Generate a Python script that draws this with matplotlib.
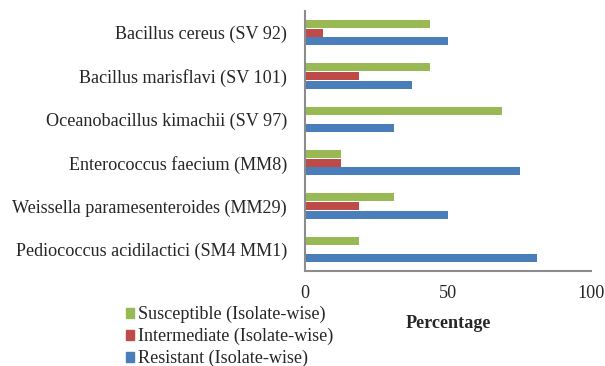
import numpy as np
import matplotlib
matplotlib.use("Agg")
import matplotlib.pyplot as plt
from matplotlib.patches import Patch

# Isolates listed bottom-to-top as drawn on the y axis
ISOLATES = [
    "Pediococcus acidilactici (SM4 MM1)",
    "Weissella paramesenteroides (MM29)",
    "Enterococcus faecium (MM8)",
    "Oceanobacillus kimachii (SV 97)",
    "Bacillus marisflavi (SV 101)",
    "Bacillus cereus (SV 92)",
]
RESISTANT = [81.25, 50.0, 75.0, 31.25, 37.5, 50.0]
INTERMEDIATE = [0.0, 18.75, 12.5, 0.0, 18.75, 6.25]
SUSCEPTIBLE = [18.75, 31.25, 12.5, 68.75, 43.75, 43.75]

COLORS = {
    "Resistant": "#4A7EBB",
    "Intermediate": "#BE4B48",
    "Susceptible": "#98B954",
}

plt.rcParams["font.family"] = ["Liberation Serif", "DejaVu Serif"]
plt.rcParams["font.size"] = 13.1
plt.rcParams["text.color"] = "#262626"
plt.rcParams["xtick.color"] = "#262626"
plt.rcParams["ytick.color"] = "#262626"

fig = plt.figure(figsize=(6.05, 3.66), dpi=100)
ax = fig.add_axes([0.504, 0.260, 0.473, 0.710])

y = np.arange(len(ISOLATES))
h = 0.2
ax.barh(y - h, RESISTANT, h * 0.92, color=COLORS["Resistant"])
ax.barh(y, INTERMEDIATE, h * 0.92, color=COLORS["Intermediate"])
ax.barh(y + h, SUSCEPTIBLE, h * 0.92, color=COLORS["Susceptible"])

ax.set_xlim(0, 100)
ax.set_ylim(-0.5, len(ISOLATES) - 0.5)
ax.set_xticks([0, 50, 100])
ax.set_yticks(y)
ax.set_yticklabels(ISOLATES)
ax.tick_params(axis="both", length=0)
ax.tick_params(axis="x", pad=10.5)
ax.tick_params(axis="y", pad=13)

for side in ("top", "right"):
    ax.spines[side].set_visible(False)
for side in ("left", "bottom"):
    ax.spines[side].set_color("#8c8c8c")
    ax.spines[side].set_linewidth(1.5)

fig.text(0.741, 0.115, "Percentage", ha="center", va="center",
         fontweight="bold")

handles = [
    Patch(color=COLORS["Susceptible"], label="Susceptible (Isolate-wise)"),
    Patch(color=COLORS["Intermediate"], label="Intermediate (Isolate-wise)"),
    Patch(color=COLORS["Resistant"], label="Resistant (Isolate-wise)"),
]
fig.legend(handles=handles, loc="upper left", bbox_to_anchor=(0.208, 0.164),
           frameon=False, handlelength=0.45, handleheight=0.45,
           handletextpad=0.2, labelspacing=0.26, borderaxespad=0,
           borderpad=0)

fig.savefig("out.png", dpi=100)
